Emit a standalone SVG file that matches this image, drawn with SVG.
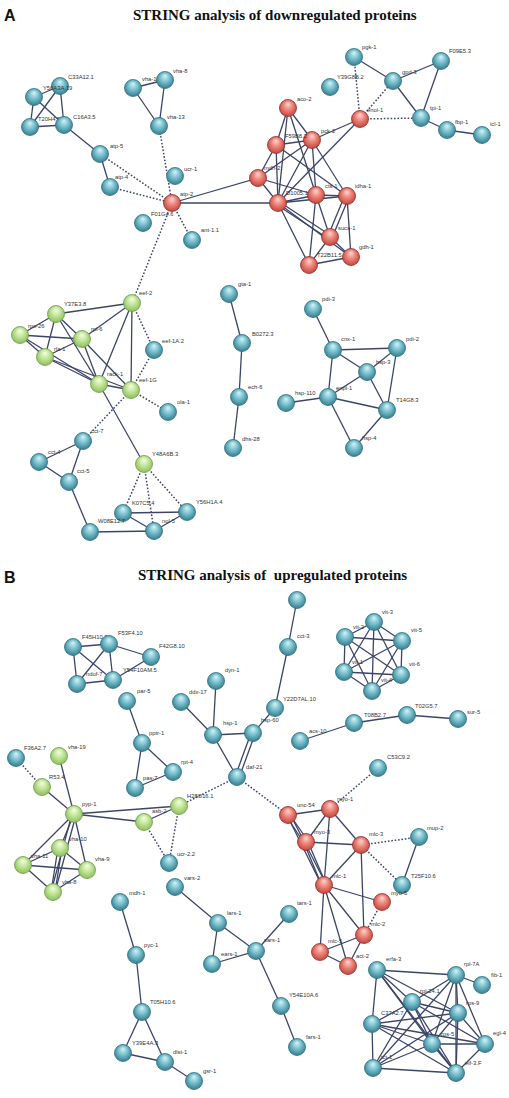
<svg xmlns="http://www.w3.org/2000/svg" width="509" height="1098" viewBox="0 0 509 1098">
<defs>
<radialGradient id="gb" cx="50%" cy="45%" r="55%" fx="50%" fy="25%"><stop offset="0" stop-color="#d8f3f6"/><stop offset="0.45" stop-color="#7fc5d2"/><stop offset="1" stop-color="#367f91"/></radialGradient>
<radialGradient id="gr" cx="50%" cy="45%" r="55%" fx="50%" fy="25%"><stop offset="0" stop-color="#ffd9d2"/><stop offset="0.45" stop-color="#ee8a80"/><stop offset="1" stop-color="#c4453d"/></radialGradient>
<radialGradient id="gg" cx="50%" cy="45%" r="55%" fx="50%" fy="25%"><stop offset="0" stop-color="#f4ffe4"/><stop offset="0.45" stop-color="#c8e8a0"/><stop offset="1" stop-color="#8dbf5c"/></radialGradient>
</defs>
<style>
.s{stroke:#3c4568;stroke-width:1.3;fill:none}
.d{stroke:#3c4568;stroke-width:1.5;stroke-dasharray:1.6 1.8;fill:none}
.b circle{fill:url(#gb);stroke:#2e6f7e;stroke-width:0.8}
.r circle{fill:url(#gr);stroke:#902d27;stroke-width:0.8}
.g circle{fill:url(#gg);stroke:#6e9a46;stroke-width:0.8}
text.l{font-family:"Liberation Sans",Arial,sans-serif;font-size:5.8px;fill:#333}
.ttl{font-family:"Liberation Serif","Times New Roman",serif;font-weight:bold;font-size:15px;fill:#111}
.pl{font-family:"Liberation Sans",Arial,sans-serif;font-weight:bold;font-size:16px;fill:#111}
</style>
<rect width="509" height="1098" fill="#fff"/>
<text class="pl" x="4" y="21">A</text>
<text class="ttl" x="133" y="20">STRING analysis of downregulated proteins</text>
<text class="pl" x="4" y="583">B</text>
<text class="ttl" x="138" y="580" xml:space="preserve">STRING analysis of  upregulated proteins</text>

<g id="connectors">
<line class="d" x1="100" y1="154" x2="172" y2="203"/>
<line class="d" x1="110" y1="187" x2="172" y2="203"/>
<line class="d" x1="159" y1="126" x2="172" y2="203"/>
<line class="d" x1="172" y1="203" x2="192" y2="240"/>
<line class="d" x1="172" y1="203" x2="132" y2="303"/>
<line class="d" x1="360" y1="119" x2="354" y2="57"/>
<line class="d" x1="360" y1="119" x2="393" y2="81"/>
<line class="d" x1="360" y1="119" x2="421" y2="118"/>
<line class="d" x1="132" y1="303" x2="154" y2="350"/>
<line class="d" x1="154" y1="350" x2="131" y2="390"/>
<line class="d" x1="131" y1="390" x2="168" y2="412"/>
<line class="d" x1="131" y1="390" x2="83" y2="441"/>
<line class="d" x1="144" y1="464" x2="123" y2="513"/>
<line class="d" x1="144" y1="464" x2="154" y2="531"/>
<line class="d" x1="144" y1="464" x2="187" y2="512"/>
<line class="s" x1="34" y1="97" x2="60" y2="86"/>
<line class="s" x1="34" y1="97" x2="30" y2="127"/>
<line class="s" x1="34" y1="97" x2="64" y2="125"/>
<line class="s" x1="60" y1="86" x2="64" y2="125"/>
<line class="s" x1="60" y1="86" x2="30" y2="127"/>
<line class="s" x1="30" y1="127" x2="64" y2="125"/>
<line class="s" x1="64" y1="125" x2="100" y2="154"/>
<line class="s" x1="100" y1="154" x2="110" y2="187"/>
<line class="s" x1="133" y1="88" x2="165" y2="80"/>
<line class="s" x1="133" y1="88" x2="159" y2="126"/>
<line class="s" x1="165" y1="80" x2="159" y2="126"/>
<line class="s" x1="172" y1="203" x2="258" y2="178"/>
<line class="s" x1="172" y1="203" x2="278" y2="203"/>
<line class="s" x1="354" y1="57" x2="393" y2="81"/>
<line class="s" x1="393" y1="81" x2="441" y2="61"/>
<line class="s" x1="393" y1="81" x2="421" y2="118"/>
<line class="s" x1="441" y1="61" x2="421" y2="118"/>
<line class="s" x1="421" y1="118" x2="447" y2="130"/>
<line class="s" x1="447" y1="130" x2="482" y2="135"/>
<line class="s" x1="360" y1="119" x2="312" y2="140"/>
<line class="s" x1="360" y1="119" x2="278" y2="203"/>
<line class="s" x1="288" y1="108" x2="276" y2="145"/>
<line class="s" x1="288" y1="108" x2="312" y2="140"/>
<line class="s" x1="288" y1="108" x2="278" y2="203"/>
<line class="s" x1="288" y1="108" x2="316" y2="195"/>
<line class="s" x1="276" y1="145" x2="312" y2="140"/>
<line class="s" x1="276" y1="145" x2="258" y2="178"/>
<line class="s" x1="276" y1="145" x2="278" y2="203"/>
<line class="s" x1="276" y1="145" x2="347" y2="196"/>
<line class="s" x1="312" y1="140" x2="258" y2="178"/>
<line class="s" x1="312" y1="140" x2="316" y2="195"/>
<line class="s" x1="312" y1="140" x2="347" y2="196"/>
<line class="s" x1="312" y1="140" x2="278" y2="203"/>
<line class="s" x1="258" y1="178" x2="278" y2="203"/>
<line class="s" x1="258" y1="178" x2="316" y2="195"/>
<line class="s" x1="278" y1="203" x2="316" y2="195"/>
<line class="s" x1="278" y1="203" x2="347" y2="196"/>
<line class="s" x1="278" y1="201" x2="330" y2="235"/>
<line class="s" x1="277" y1="205" x2="329" y2="239"/>
<line class="s" x1="278" y1="203" x2="309" y2="265"/>
<line class="s" x1="278" y1="203" x2="351" y2="257"/>
<line class="s" x1="316" y1="195" x2="347" y2="196"/>
<line class="s" x1="316" y1="195" x2="330" y2="237"/>
<line class="s" x1="316" y1="195" x2="309" y2="265"/>
<line class="s" x1="345" y1="195" x2="328" y2="236"/>
<line class="s" x1="349" y1="197" x2="332" y2="238"/>
<line class="s" x1="347" y1="196" x2="351" y2="257"/>
<line class="s" x1="330" y1="237" x2="351" y2="257"/>
<line class="s" x1="330" y1="237" x2="309" y2="265"/>
<line class="s" x1="309" y1="265" x2="351" y2="257"/>
<line class="s" x1="132" y1="303" x2="56" y2="314"/>
<line class="s" x1="132" y1="303" x2="82" y2="339"/>
<line class="s" x1="132" y1="303" x2="99" y2="384"/>
<line class="s" x1="132" y1="303" x2="131" y2="390"/>
<line class="s" x1="56" y1="314" x2="20" y2="335"/>
<line class="s" x1="56" y1="314" x2="45" y2="357"/>
<line class="s" x1="56" y1="314" x2="82" y2="339"/>
<line class="s" x1="56" y1="314" x2="99" y2="384"/>
<line class="s" x1="20" y1="335" x2="82" y2="339"/>
<line class="s" x1="20" y1="335" x2="45" y2="357"/>
<line class="s" x1="20" y1="335" x2="99" y2="384"/>
<line class="s" x1="82" y1="339" x2="45" y2="357"/>
<line class="s" x1="82" y1="339" x2="99" y2="384"/>
<line class="s" x1="82" y1="339" x2="131" y2="390"/>
<line class="s" x1="45" y1="357" x2="99" y2="384"/>
<line class="s" x1="45" y1="357" x2="131" y2="390"/>
<line class="s" x1="99" y1="384" x2="131" y2="390"/>
<line class="s" x1="99" y1="384" x2="144" y2="464"/>
<line class="s" x1="83" y1="441" x2="39" y2="462"/>
<line class="s" x1="83" y1="441" x2="69" y2="482"/>
<line class="s" x1="39" y1="462" x2="69" y2="482"/>
<line class="s" x1="69" y1="482" x2="90" y2="532"/>
<line class="s" x1="123" y1="513" x2="187" y2="512"/>
<line class="s" x1="123" y1="513" x2="154" y2="531"/>
<line class="s" x1="90" y1="532" x2="154" y2="531"/>
<line class="s" x1="187" y1="512" x2="154" y2="531"/>
<line class="s" x1="229" y1="294" x2="242" y2="343"/>
<line class="s" x1="242" y1="343" x2="239" y2="397"/>
<line class="s" x1="239" y1="397" x2="233" y2="448"/>
<line class="s" x1="313" y1="309" x2="333" y2="350"/>
<line class="s" x1="333" y1="350" x2="397" y2="348"/>
<line class="s" x1="333" y1="350" x2="367" y2="372"/>
<line class="s" x1="333" y1="350" x2="328" y2="397"/>
<line class="s" x1="397" y1="348" x2="367" y2="372"/>
<line class="s" x1="397" y1="348" x2="387" y2="410"/>
<line class="s" x1="367" y1="372" x2="328" y2="397"/>
<line class="s" x1="367" y1="372" x2="387" y2="410"/>
<line class="s" x1="328" y1="397" x2="286" y2="403"/>
<line class="s" x1="328" y1="397" x2="387" y2="410"/>
<line class="s" x1="328" y1="397" x2="354" y2="448"/>
<line class="s" x1="354" y1="448" x2="387" y2="410"/>

<line class="d" x1="237" y1="777" x2="288" y2="815"/>
<line class="d" x1="237" y1="777" x2="179" y2="806"/>
<line class="d" x1="144" y1="822" x2="169" y2="863"/>
<line class="d" x1="179" y1="806" x2="169" y2="863"/>
<line class="d" x1="16" y1="758" x2="42" y2="787"/>
<line class="d" x1="330" y1="809" x2="378" y2="768"/>
<line class="d" x1="361" y1="845" x2="419" y2="837"/>
<line class="d" x1="361" y1="845" x2="402" y2="885"/>
<line class="d" x1="382" y1="902" x2="364" y2="935"/>
<line class="s" x1="297" y1="600" x2="288" y2="647"/>
<line class="s" x1="288" y1="647" x2="275" y2="708"/>
<line class="s" x1="275" y1="708" x2="253" y2="733"/>
<line class="s" x1="213" y1="735" x2="253" y2="733"/>
<line class="s" x1="213" y1="735" x2="237" y2="777"/>
<line class="s" x1="251" y1="733" x2="235" y2="777"/>
<line class="s" x1="255" y1="734" x2="239" y2="778"/>
<line class="s" x1="181" y1="702" x2="213" y2="735"/>
<line class="s" x1="216" y1="681" x2="213" y2="735"/>
<line class="s" x1="73" y1="647" x2="109" y2="644"/>
<line class="s" x1="73" y1="647" x2="77" y2="684"/>
<line class="s" x1="73" y1="647" x2="113" y2="680"/>
<line class="s" x1="109" y1="644" x2="77" y2="684"/>
<line class="s" x1="109" y1="644" x2="113" y2="680"/>
<line class="s" x1="109" y1="644" x2="151" y2="657"/>
<line class="s" x1="151" y1="657" x2="113" y2="680"/>
<line class="s" x1="77" y1="684" x2="113" y2="680"/>
<line class="s" x1="374" y1="622" x2="345" y2="637"/>
<line class="s" x1="374" y1="622" x2="402" y2="641"/>
<line class="s" x1="374" y1="622" x2="344" y2="672"/>
<line class="s" x1="374" y1="622" x2="401" y2="675"/>
<line class="s" x1="374" y1="622" x2="372" y2="691"/>
<line class="s" x1="345" y1="637" x2="402" y2="641"/>
<line class="s" x1="345" y1="637" x2="344" y2="672"/>
<line class="s" x1="345" y1="637" x2="401" y2="675"/>
<line class="s" x1="345" y1="637" x2="372" y2="691"/>
<line class="s" x1="402" y1="641" x2="344" y2="672"/>
<line class="s" x1="402" y1="641" x2="401" y2="675"/>
<line class="s" x1="402" y1="641" x2="372" y2="691"/>
<line class="s" x1="344" y1="672" x2="401" y2="675"/>
<line class="s" x1="344" y1="672" x2="372" y2="691"/>
<line class="s" x1="401" y1="675" x2="372" y2="691"/>
<line class="s" x1="300" y1="741" x2="354" y2="723"/>
<line class="s" x1="354" y1="723" x2="407" y2="715"/>
<line class="s" x1="407" y1="715" x2="458" y2="719"/>
<line class="s" x1="127" y1="701" x2="142" y2="743"/>
<line class="s" x1="142" y1="743" x2="173" y2="772"/>
<line class="s" x1="142" y1="743" x2="135" y2="788"/>
<line class="s" x1="135" y1="788" x2="173" y2="772"/>
<line class="s" x1="42" y1="787" x2="74" y2="814"/>
<line class="s" x1="59" y1="756" x2="74" y2="814"/>
<line class="s" x1="74" y1="814" x2="144" y2="822"/>
<line class="s" x1="74" y1="814" x2="179" y2="806"/>
<line class="s" x1="74" y1="814" x2="60" y2="848"/>
<line class="s" x1="74" y1="814" x2="23" y2="865"/>
<line class="s" x1="74" y1="814" x2="87" y2="870"/>
<line class="s" x1="72" y1="814" x2="51" y2="892"/>
<line class="s" x1="76" y1="815" x2="55" y2="892"/>
<line class="s" x1="60" y1="848" x2="23" y2="865"/>
<line class="s" x1="60" y1="848" x2="87" y2="870"/>
<line class="s" x1="58" y1="848" x2="51" y2="892"/>
<line class="s" x1="62" y1="848" x2="55" y2="892"/>
<line class="s" x1="23" y1="865" x2="87" y2="870"/>
<line class="s" x1="23" y1="865" x2="53" y2="892"/>
<line class="s" x1="87" y1="870" x2="53" y2="892"/>
<line class="s" x1="144" y1="822" x2="179" y2="806"/>
<line class="s" x1="175" y1="887" x2="218" y2="923"/>
<line class="s" x1="218" y1="923" x2="212" y2="964"/>
<line class="s" x1="218" y1="923" x2="256" y2="951"/>
<line class="s" x1="212" y1="964" x2="256" y2="951"/>
<line class="s" x1="256" y1="951" x2="289" y2="914"/>
<line class="s" x1="256" y1="951" x2="281" y2="1006"/>
<line class="s" x1="281" y1="1006" x2="297" y2="1047"/>
<line class="s" x1="120" y1="902" x2="136" y2="955"/>
<line class="s" x1="136" y1="955" x2="142" y2="1012"/>
<line class="s" x1="142" y1="1012" x2="123" y2="1053"/>
<line class="s" x1="142" y1="1012" x2="165" y2="1062"/>
<line class="s" x1="123" y1="1053" x2="165" y2="1062"/>
<line class="s" x1="165" y1="1062" x2="194" y2="1081"/>
<line class="s" x1="288" y1="815" x2="330" y2="809"/>
<line class="s" x1="287" y1="817" x2="304" y2="843"/>
<line class="s" x1="290" y1="815" x2="308" y2="841"/>
<line class="s" x1="287" y1="815" x2="322" y2="886"/>
<line class="s" x1="290" y1="814" x2="326" y2="884"/>
<line class="s" x1="330" y1="809" x2="306" y2="842"/>
<line class="s" x1="330" y1="809" x2="361" y2="845"/>
<line class="s" x1="330" y1="809" x2="324" y2="885"/>
<line class="s" x1="306" y1="842" x2="361" y2="845"/>
<line class="s" x1="304" y1="843" x2="322" y2="886"/>
<line class="s" x1="308" y1="842" x2="326" y2="884"/>
<line class="s" x1="361" y1="845" x2="324" y2="885"/>
<line class="s" x1="361" y1="845" x2="364" y2="935"/>
<line class="s" x1="419" y1="837" x2="402" y2="885"/>
<line class="s" x1="324" y1="885" x2="382" y2="902"/>
<line class="s" x1="324" y1="885" x2="320" y2="952"/>
<line class="s" x1="324" y1="885" x2="348" y2="966"/>
<line class="s" x1="324" y1="885" x2="364" y2="935"/>
<line class="s" x1="320" y1="952" x2="364" y2="935"/>
<line class="s" x1="320" y1="952" x2="348" y2="966"/>
<line class="s" x1="348" y1="966" x2="364" y2="935"/>
<line class="s" x1="377" y1="970" x2="456" y2="975"/>
<line class="s" x1="377" y1="970" x2="372" y2="1024"/>
<line class="s" x1="377" y1="970" x2="412" y2="1002"/>
<line class="s" x1="377" y1="970" x2="458" y2="1013"/>
<line class="s" x1="377" y1="970" x2="432" y2="1044"/>
<line class="s" x1="377" y1="970" x2="456" y2="1073"/>
<line class="s" x1="456" y1="975" x2="482" y2="985"/>
<line class="s" x1="456" y1="975" x2="412" y2="1002"/>
<line class="s" x1="456" y1="975" x2="458" y2="1013"/>
<line class="s" x1="456" y1="975" x2="432" y2="1044"/>
<line class="s" x1="456" y1="975" x2="456" y2="1073"/>
<line class="s" x1="456" y1="975" x2="485" y2="1044"/>
<line class="s" x1="456" y1="975" x2="373" y2="1068"/>
<line class="s" x1="412" y1="1002" x2="372" y2="1024"/>
<line class="s" x1="412" y1="1002" x2="458" y2="1013"/>
<line class="s" x1="412" y1="1002" x2="432" y2="1044"/>
<line class="s" x1="412" y1="1002" x2="485" y2="1044"/>
<line class="s" x1="412" y1="1002" x2="456" y2="1073"/>
<line class="s" x1="412" y1="1002" x2="373" y2="1068"/>
<line class="s" x1="458" y1="1013" x2="372" y2="1024"/>
<line class="s" x1="458" y1="1013" x2="432" y2="1044"/>
<line class="s" x1="458" y1="1013" x2="485" y2="1044"/>
<line class="s" x1="458" y1="1013" x2="456" y2="1073"/>
<line class="s" x1="458" y1="1013" x2="373" y2="1068"/>
<line class="s" x1="372" y1="1024" x2="373" y2="1068"/>
<line class="s" x1="372" y1="1024" x2="432" y2="1044"/>
<line class="s" x1="372" y1="1024" x2="485" y2="1044"/>
<line class="s" x1="372" y1="1024" x2="456" y2="1073"/>
<line class="s" x1="432" y1="1044" x2="485" y2="1044"/>
<line class="s" x1="432" y1="1044" x2="456" y2="1073"/>
<line class="s" x1="432" y1="1044" x2="373" y2="1068"/>
<line class="s" x1="485" y1="1044" x2="456" y2="1073"/>
<line class="s" x1="373" y1="1068" x2="456" y2="1073"/>
</g>

<g id="nodes-A">
<g id="n-C33A12.1" class="b"><circle cx="60" cy="86" r="8.5"/><text class="l" x="68" y="79">C33A12.1</text></g>
<g id="n-Y56A3A.19" class="b"><circle cx="34" cy="97" r="8.5"/><text class="l" x="43" y="90">Y56A3A.19</text></g>
<g id="n-T20H4.5" class="b"><circle cx="30" cy="127" r="8.5"/><text class="l" x="38" y="121">T20H4.5</text></g>
<g id="n-C16A3.5" class="b"><circle cx="64" cy="125" r="8.5"/><text class="l" x="73" y="119">C16A3.5</text></g>
<g id="n-vha-12" class="b"><circle cx="133" cy="88" r="8.5"/><text class="l" x="142" y="81">vha-12</text></g>
<g id="n-vha-8a" class="b"><circle cx="165" cy="80" r="8.5"/><text class="l" x="173" y="73">vha-8</text></g>
<g id="n-vha-13" class="b"><circle cx="159" cy="126" r="8.5"/><text class="l" x="167" y="119">vha-13</text></g>
<g id="n-atp-5" class="b"><circle cx="100" cy="154" r="8.5"/><text class="l" x="110" y="148">atp-5</text></g>
<g id="n-atp-4" class="b"><circle cx="110" cy="187" r="8.5"/><text class="l" x="115" y="179">atp-4</text></g>
<g id="n-ucr-1" class="b"><circle cx="175" cy="176" r="8.5"/><text class="l" x="184" y="171">ucr-1</text></g>
<g id="n-F01G4.6" class="b"><circle cx="143" cy="223" r="8.5"/><text class="l" x="151" y="216">F01G4.6</text></g>
<g id="n-atp-2" class="r"><circle cx="172" cy="203" r="8.5"/><text class="l" x="180" y="196">atp-2</text></g>
<g id="n-ant-1.1" class="b"><circle cx="192" cy="240" r="8.5"/><text class="l" x="201" y="232">ant-1.1</text></g>
<g id="n-pgk-1" class="b"><circle cx="354" cy="57" r="8.5"/><text class="l" x="362" y="49">pgk-1</text></g>
<g id="n-Y39G8B.2" class="b"><circle cx="330" cy="87" r="8.5"/><text class="l" x="337" y="79">Y39G8B.2</text></g>
<g id="n-gpd-3" class="b"><circle cx="393" cy="81" r="8.5"/><text class="l" x="402" y="74">gpd-3</text></g>
<g id="n-F09E5.3" class="b"><circle cx="441" cy="61" r="8.5"/><text class="l" x="449" y="53">F09E5.3</text></g>
<g id="n-tpi-1" class="b"><circle cx="421" cy="118" r="8.5"/><text class="l" x="430" y="110">tpi-1</text></g>
<g id="n-fbp-1" class="b"><circle cx="447" cy="130" r="8.5"/><text class="l" x="455" y="124">fbp-1</text></g>
<g id="n-icl-1" class="b"><circle cx="482" cy="135" r="8.5"/><text class="l" x="490" y="126">icl-1</text></g>
<g id="n-enol-1" class="r"><circle cx="360" cy="119" r="8.5"/><text class="l" x="367" y="112">enol-1</text></g>
<g id="n-aco-2" class="r"><circle cx="288" cy="108" r="8.5"/><text class="l" x="297" y="101">aco-2</text></g>
<g id="n-pck-2" class="r"><circle cx="312" cy="140" r="8.5"/><text class="l" x="321" y="133">pck-2</text></g>
<g id="n-F59B8.2" class="r"><circle cx="276" cy="145" r="8.5"/><text class="l" x="285" y="138">F59B8.2</text></g>
<g id="n-mdh-2" class="r"><circle cx="258" cy="178" r="8.5"/><text class="l" x="264" y="170">mdh-2</text></g>
<g id="n-D1005.1" class="r"><circle cx="278" cy="203" r="8.5"/><text class="l" x="286" y="195">D1005.1</text></g>
<g id="n-cts-1" class="r"><circle cx="316" cy="195" r="8.5"/><text class="l" x="325" y="188">cts-1</text></g>
<g id="n-idha-1" class="r"><circle cx="347" cy="196" r="8.5"/><text class="l" x="355" y="188">idha-1</text></g>
<g id="n-suca-1" class="r"><circle cx="330" cy="237" r="8.5"/><text class="l" x="338" y="230">suca-1</text></g>
<g id="n-gdh-1" class="r"><circle cx="351" cy="257" r="8.5"/><text class="l" x="359" y="249">gdh-1</text></g>
<g id="n-T22B11.5" class="r"><circle cx="309" cy="265" r="8.5"/><text class="l" x="317" y="257">T22B11.5</text></g>
<g id="n-eef-2" class="g"><circle cx="132" cy="303" r="8.5"/><text class="l" x="139" y="295">eef-2</text></g>
<g id="n-Y37E3.8" class="g"><circle cx="56" cy="314" r="8.5"/><text class="l" x="64" y="306">Y37E3.8</text></g>
<g id="n-rps-26" class="g"><circle cx="20" cy="335" r="8.5"/><text class="l" x="28" y="328">rps-26</text></g>
<g id="n-rpl-6" class="g"><circle cx="82" cy="339" r="8.5"/><text class="l" x="91" y="331">rpl-6</text></g>
<g id="n-rla-1" class="g"><circle cx="45" cy="357" r="8.5"/><text class="l" x="54" y="351">rla-1</text></g>
<g id="n-eef-1A.2" class="b"><circle cx="154" cy="350" r="8.5"/><text class="l" x="162" y="343">eef-1A.2</text></g>
<g id="n-rack-1" class="g"><circle cx="99" cy="384" r="8.5"/><text class="l" x="107" y="376">rack-1</text></g>
<g id="n-eef-1G" class="g"><circle cx="131" cy="390" r="8.5"/><text class="l" x="139" y="382">eef-1G</text></g>
<g id="n-ola-1" class="b"><circle cx="168" cy="412" r="8.5"/><text class="l" x="177" y="404">ola-1</text></g>
<g id="n-gta-1" class="b"><circle cx="229" cy="294" r="8.5"/><text class="l" x="238" y="286">gta-1</text></g>
<g id="n-B0272.3" class="b"><circle cx="242" cy="343" r="8.5"/><text class="l" x="252" y="336">B0272.3</text></g>
<g id="n-ech-6" class="b"><circle cx="239" cy="397" r="8.5"/><text class="l" x="248" y="389">ech-6</text></g>
<g id="n-dhs-28" class="b"><circle cx="233" cy="448" r="8.5"/><text class="l" x="242" y="441">dhs-28</text></g>
<g id="n-cct-7" class="b"><circle cx="83" cy="441" r="8.5"/><text class="l" x="91" y="433">cct-7</text></g>
<g id="n-cct-4" class="b"><circle cx="39" cy="462" r="8.5"/><text class="l" x="48" y="454">cct-4</text></g>
<g id="n-cct-5" class="b"><circle cx="69" cy="482" r="8.5"/><text class="l" x="77" y="473">cct-5</text></g>
<g id="n-Y48A6B.3" class="g"><circle cx="144" cy="464" r="8.5"/><text class="l" x="152" y="456">Y48A6B.3</text></g>
<g id="n-K07C5.4" class="b"><circle cx="123" cy="513" r="8.5"/><text class="l" x="132" y="505">K07C5.4</text></g>
<g id="n-Y56H1A.4" class="b"><circle cx="187" cy="512" r="8.5"/><text class="l" x="196" y="504">Y56H1A.4</text></g>
<g id="n-W08E12.7" class="b"><circle cx="90" cy="532" r="8.5"/><text class="l" x="98" y="523">W08E12.7</text></g>
<g id="n-nol-5" class="b"><circle cx="154" cy="531" r="8.5"/><text class="l" x="162" y="523">nol-5</text></g>
<g id="n-pdi-3" class="b"><circle cx="313" cy="309" r="8.5"/><text class="l" x="322" y="301">pdi-3</text></g>
<g id="n-cnx-1" class="b"><circle cx="333" cy="350" r="8.5"/><text class="l" x="341" y="341">cnx-1</text></g>
<g id="n-pdi-2" class="b"><circle cx="397" cy="348" r="8.5"/><text class="l" x="406" y="341">pdi-2</text></g>
<g id="n-hsp-3" class="b"><circle cx="367" cy="372" r="8.5"/><text class="l" x="376" y="364">hsp-3</text></g>
<g id="n-enpl-1" class="b"><circle cx="328" cy="397" r="8.5"/><text class="l" x="336" y="390">enpl-1</text></g>
<g id="n-hsp-110" class="b"><circle cx="286" cy="403" r="8.5"/><text class="l" x="295" y="395">hsp-110</text></g>
<g id="n-T14G8.3" class="b"><circle cx="387" cy="410" r="8.5"/><text class="l" x="396" y="402">T14G8.3</text></g>
<g id="n-hsp-4" class="b"><circle cx="354" cy="448" r="8.5"/><text class="l" x="362" y="440">hsp-4</text></g>
</g>

<g id="nodes-B">
<g id="n-top" class="b"><circle cx="297" cy="600" r="8.5"/></g>
<g id="n-cct-3" class="b"><circle cx="288" cy="647" r="8.5"/><text class="l" x="297" y="638">cct-3</text></g>
<g id="n-Y22D7AL.10" class="b"><circle cx="275" cy="708" r="8.5"/><text class="l" x="283" y="701">Y22D7AL.10</text></g>
<g id="n-hsp-60" class="b"><circle cx="253" cy="733" r="8.5"/><text class="l" x="261" y="722">hsp-60</text></g>
<g id="n-F45H10.3" class="b"><circle cx="73" cy="647" r="8.5"/><text class="l" x="82" y="639">F45H10.3</text></g>
<g id="n-F53F4.10" class="b"><circle cx="109" cy="644" r="8.5"/><text class="l" x="118" y="635">F53F4.10</text></g>
<g id="n-F42G8.10" class="b"><circle cx="151" cy="657" r="8.5"/><text class="l" x="159" y="648">F42G8.10</text></g>
<g id="n-nduf-7" class="b"><circle cx="77" cy="684" r="8.5"/><text class="l" x="86" y="676">nduf-7</text></g>
<g id="n-Y54F10AM.5" class="b"><circle cx="113" cy="680" r="8.5"/><text class="l" x="123" y="672">Y54F10AM.5</text></g>
<g id="n-par-5" class="b"><circle cx="127" cy="701" r="8.5"/><text class="l" x="137" y="693">par-5</text></g>
<g id="n-ddx-17" class="b"><circle cx="181" cy="702" r="8.5"/><text class="l" x="189" y="694">ddx-17</text></g>
<g id="n-dyn-1" class="b"><circle cx="216" cy="681" r="8.5"/><text class="l" x="225" y="672">dyn-1</text></g>
<g id="n-hsp-1" class="b"><circle cx="213" cy="735" r="8.5"/><text class="l" x="223" y="725">hsp-1</text></g>
<g id="n-vit-3" class="b"><circle cx="374" cy="622" r="8.5"/><text class="l" x="382" y="614">vit-3</text></g>
<g id="n-vit-2" class="b"><circle cx="345" cy="637" r="8.5"/><text class="l" x="353" y="629">vit-2</text></g>
<g id="n-vit-5" class="b"><circle cx="402" cy="641" r="8.5"/><text class="l" x="411" y="632">vit-5</text></g>
<g id="n-vit-1" class="b"><circle cx="344" cy="672" r="8.5"/><text class="l" x="352" y="664">vit-1</text></g>
<g id="n-vit-6" class="b"><circle cx="401" cy="675" r="8.5"/><text class="l" x="409" y="666">vit-6</text></g>
<g id="n-vit-4" class="b"><circle cx="372" cy="691" r="8.5"/><text class="l" x="381" y="682">vit-4</text></g>
<g id="n-T08B2.7" class="b"><circle cx="354" cy="723" r="8.5"/><text class="l" x="364" y="717">T08B2.7</text></g>
<g id="n-T02G5.7" class="b"><circle cx="407" cy="715" r="8.5"/><text class="l" x="415" y="708">T02G5.7</text></g>
<g id="n-sur-5" class="b"><circle cx="458" cy="719" r="8.5"/><text class="l" x="467" y="714">sur-5</text></g>
<g id="n-acs-10" class="b"><circle cx="300" cy="741" r="8.5"/><text class="l" x="309" y="733">acs-10</text></g>
<g id="n-pptr-1" class="b"><circle cx="142" cy="743" r="8.5"/><text class="l" x="149" y="735">pptr-1</text></g>
<g id="n-F36A2.7" class="b"><circle cx="16" cy="758" r="8.5"/><text class="l" x="24" y="750">F36A2.7</text></g>
<g id="n-vha-19" class="g"><circle cx="59" cy="756" r="8.5"/><text class="l" x="68" y="749">vha-19</text></g>
<g id="n-rpt-4" class="b"><circle cx="173" cy="772" r="8.5"/><text class="l" x="181" y="764">rpt-4</text></g>
<g id="n-pas-7" class="b"><circle cx="135" cy="788" r="8.5"/><text class="l" x="143" y="780">pas-7</text></g>
<g id="n-R53.4" class="g"><circle cx="42" cy="787" r="8.5"/><text class="l" x="49" y="779">R53.4</text></g>
<g id="n-daf-21" class="b"><circle cx="237" cy="777" r="8.5"/><text class="l" x="246" y="769">daf-21</text></g>
<g id="n-H28O16.1" class="g"><circle cx="179" cy="806" r="8.5"/><text class="l" x="187" y="798">H28O16.1</text></g>
<g id="n-pyp-1" class="g"><circle cx="74" cy="814" r="8.5"/><text class="l" x="82" y="806">pyp-1</text></g>
<g id="n-asb-2" class="g"><circle cx="144" cy="822" r="8.5"/><text class="l" x="152" y="813">asb-2</text></g>
<g id="n-vha-10" class="g"><circle cx="60" cy="848" r="8.5"/><text class="l" x="69" y="841">vha-10</text></g>
<g id="n-vha-11" class="g"><circle cx="23" cy="865" r="8.5"/><text class="l" x="31" y="858">vha-11</text></g>
<g id="n-vha-9" class="g"><circle cx="87" cy="870" r="8.5"/><text class="l" x="95" y="861">vha-9</text></g>
<g id="n-vha-8b" class="g"><circle cx="53" cy="892" r="8.5"/><text class="l" x="62" y="884">vha-8</text></g>
<g id="n-ucr-2.2" class="b"><circle cx="169" cy="863" r="8.5"/><text class="l" x="177" y="856">ucr-2.2</text></g>
<g id="n-vars-2" class="b"><circle cx="175" cy="887" r="8.5"/><text class="l" x="184" y="880">vars-2</text></g>
<g id="n-mdh-1" class="b"><circle cx="120" cy="902" r="8.5"/><text class="l" x="129" y="895">mdh-1</text></g>
<g id="n-C53C9.2" class="b"><circle cx="378" cy="768" r="8.5"/><text class="l" x="387" y="759">C53C9.2</text></g>
<g id="n-unc-54" class="r"><circle cx="288" cy="815" r="8.5"/><text class="l" x="297" y="807">unc-54</text></g>
<g id="n-myo-1" class="r"><circle cx="330" cy="809" r="8.5"/><text class="l" x="337" y="801">myo-1</text></g>
<g id="n-myo-3" class="r"><circle cx="306" cy="842" r="8.5"/><text class="l" x="314" y="834">myo-3</text></g>
<g id="n-mlc-3" class="r"><circle cx="361" cy="845" r="8.5"/><text class="l" x="369" y="836">mlc-3</text></g>
<g id="n-mup-2" class="b"><circle cx="419" cy="837" r="8.5"/><text class="l" x="427" y="830">mup-2</text></g>
<g id="n-mlc-1" class="r"><circle cx="324" cy="885" r="8.5"/><text class="l" x="332" y="878">mlc-1</text></g>
<g id="n-T25F10.6" class="b"><circle cx="402" cy="885" r="8.5"/><text class="l" x="411" y="878">T25F10.6</text></g>
<g id="n-myo-5" class="r"><circle cx="382" cy="902" r="8.5"/><text class="l" x="391" y="895">myo-5</text></g>
<g id="n-pyc-1" class="b"><circle cx="136" cy="955" r="8.5"/><text class="l" x="144" y="947">pyc-1</text></g>
<g id="n-lars-1" class="b"><circle cx="218" cy="923" r="8.5"/><text class="l" x="227" y="915">lars-1</text></g>
<g id="n-ears-1" class="b"><circle cx="212" cy="964" r="8.5"/><text class="l" x="221" y="956">ears-1</text></g>
<g id="n-sars-1" class="b"><circle cx="256" cy="951" r="8.5"/><text class="l" x="264" y="942">sars-1</text></g>
<g id="n-T05H10.6" class="b"><circle cx="142" cy="1012" r="8.5"/><text class="l" x="150" y="1004">T05H10.6</text></g>
<g id="n-Y39E4A.3" class="b"><circle cx="123" cy="1053" r="8.5"/><text class="l" x="132" y="1045">Y39E4A.3</text></g>
<g id="n-dlst-1" class="b"><circle cx="165" cy="1062" r="8.5"/><text class="l" x="173" y="1054">dlst-1</text></g>
<g id="n-gsr-1" class="b"><circle cx="194" cy="1081" r="8.5"/><text class="l" x="203" y="1073">gsr-1</text></g>
<g id="n-tars-1" class="b"><circle cx="289" cy="914" r="8.5"/><text class="l" x="297" y="905">tars-1</text></g>
<g id="n-Y54E10A.6" class="b"><circle cx="281" cy="1006" r="8.5"/><text class="l" x="289" y="997">Y54E10A.6</text></g>
<g id="n-fars-1" class="b"><circle cx="297" cy="1047" r="8.5"/><text class="l" x="306" y="1039">fars-1</text></g>
<g id="n-mlc-5" class="r"><circle cx="320" cy="952" r="8.5"/><text class="l" x="328" y="943">mlc-5</text></g>
<g id="n-act-2" class="r"><circle cx="348" cy="966" r="8.5"/><text class="l" x="356" y="958">act-2</text></g>
<g id="n-mlc-2" class="r"><circle cx="364" cy="935" r="8.5"/><text class="l" x="371" y="926">mlc-2</text></g>
<g id="n-erfa-3" class="b"><circle cx="377" cy="970" r="8.5"/><text class="l" x="386" y="961">erfa-3</text></g>
<g id="n-rpl-7A" class="b"><circle cx="456" cy="975" r="8.5"/><text class="l" x="464" y="966">rpl-7A</text></g>
<g id="n-fib-1" class="b"><circle cx="482" cy="985" r="8.5"/><text class="l" x="491" y="977">fib-1</text></g>
<g id="n-rpl-24.1" class="b"><circle cx="412" cy="1002" r="8.5"/><text class="l" x="420" y="993">rpl-24.1</text></g>
<g id="n-rps-9" class="b"><circle cx="458" cy="1013" r="8.5"/><text class="l" x="466" y="1005">rps-9</text></g>
<g id="n-C37A2.7" class="b"><circle cx="372" cy="1024" r="8.5"/><text class="l" x="381" y="1015">C37A2.7</text></g>
<g id="n-egl-4" class="b"><circle cx="485" cy="1044" r="8.5"/><text class="l" x="493" y="1035">egl-4</text></g>
<g id="n-rps-5" class="b"><circle cx="432" cy="1044" r="8.5"/><text class="l" x="441" y="1036">rps-5</text></g>
<g id="n-tct-1" class="b"><circle cx="373" cy="1068" r="8.5"/><text class="l" x="381" y="1059">tct-1</text></g>
<g id="n-eif-3.F" class="b"><circle cx="456" cy="1073" r="8.5"/><text class="l" x="465" y="1065">eif-3.F</text></g>
</g>
</svg>
